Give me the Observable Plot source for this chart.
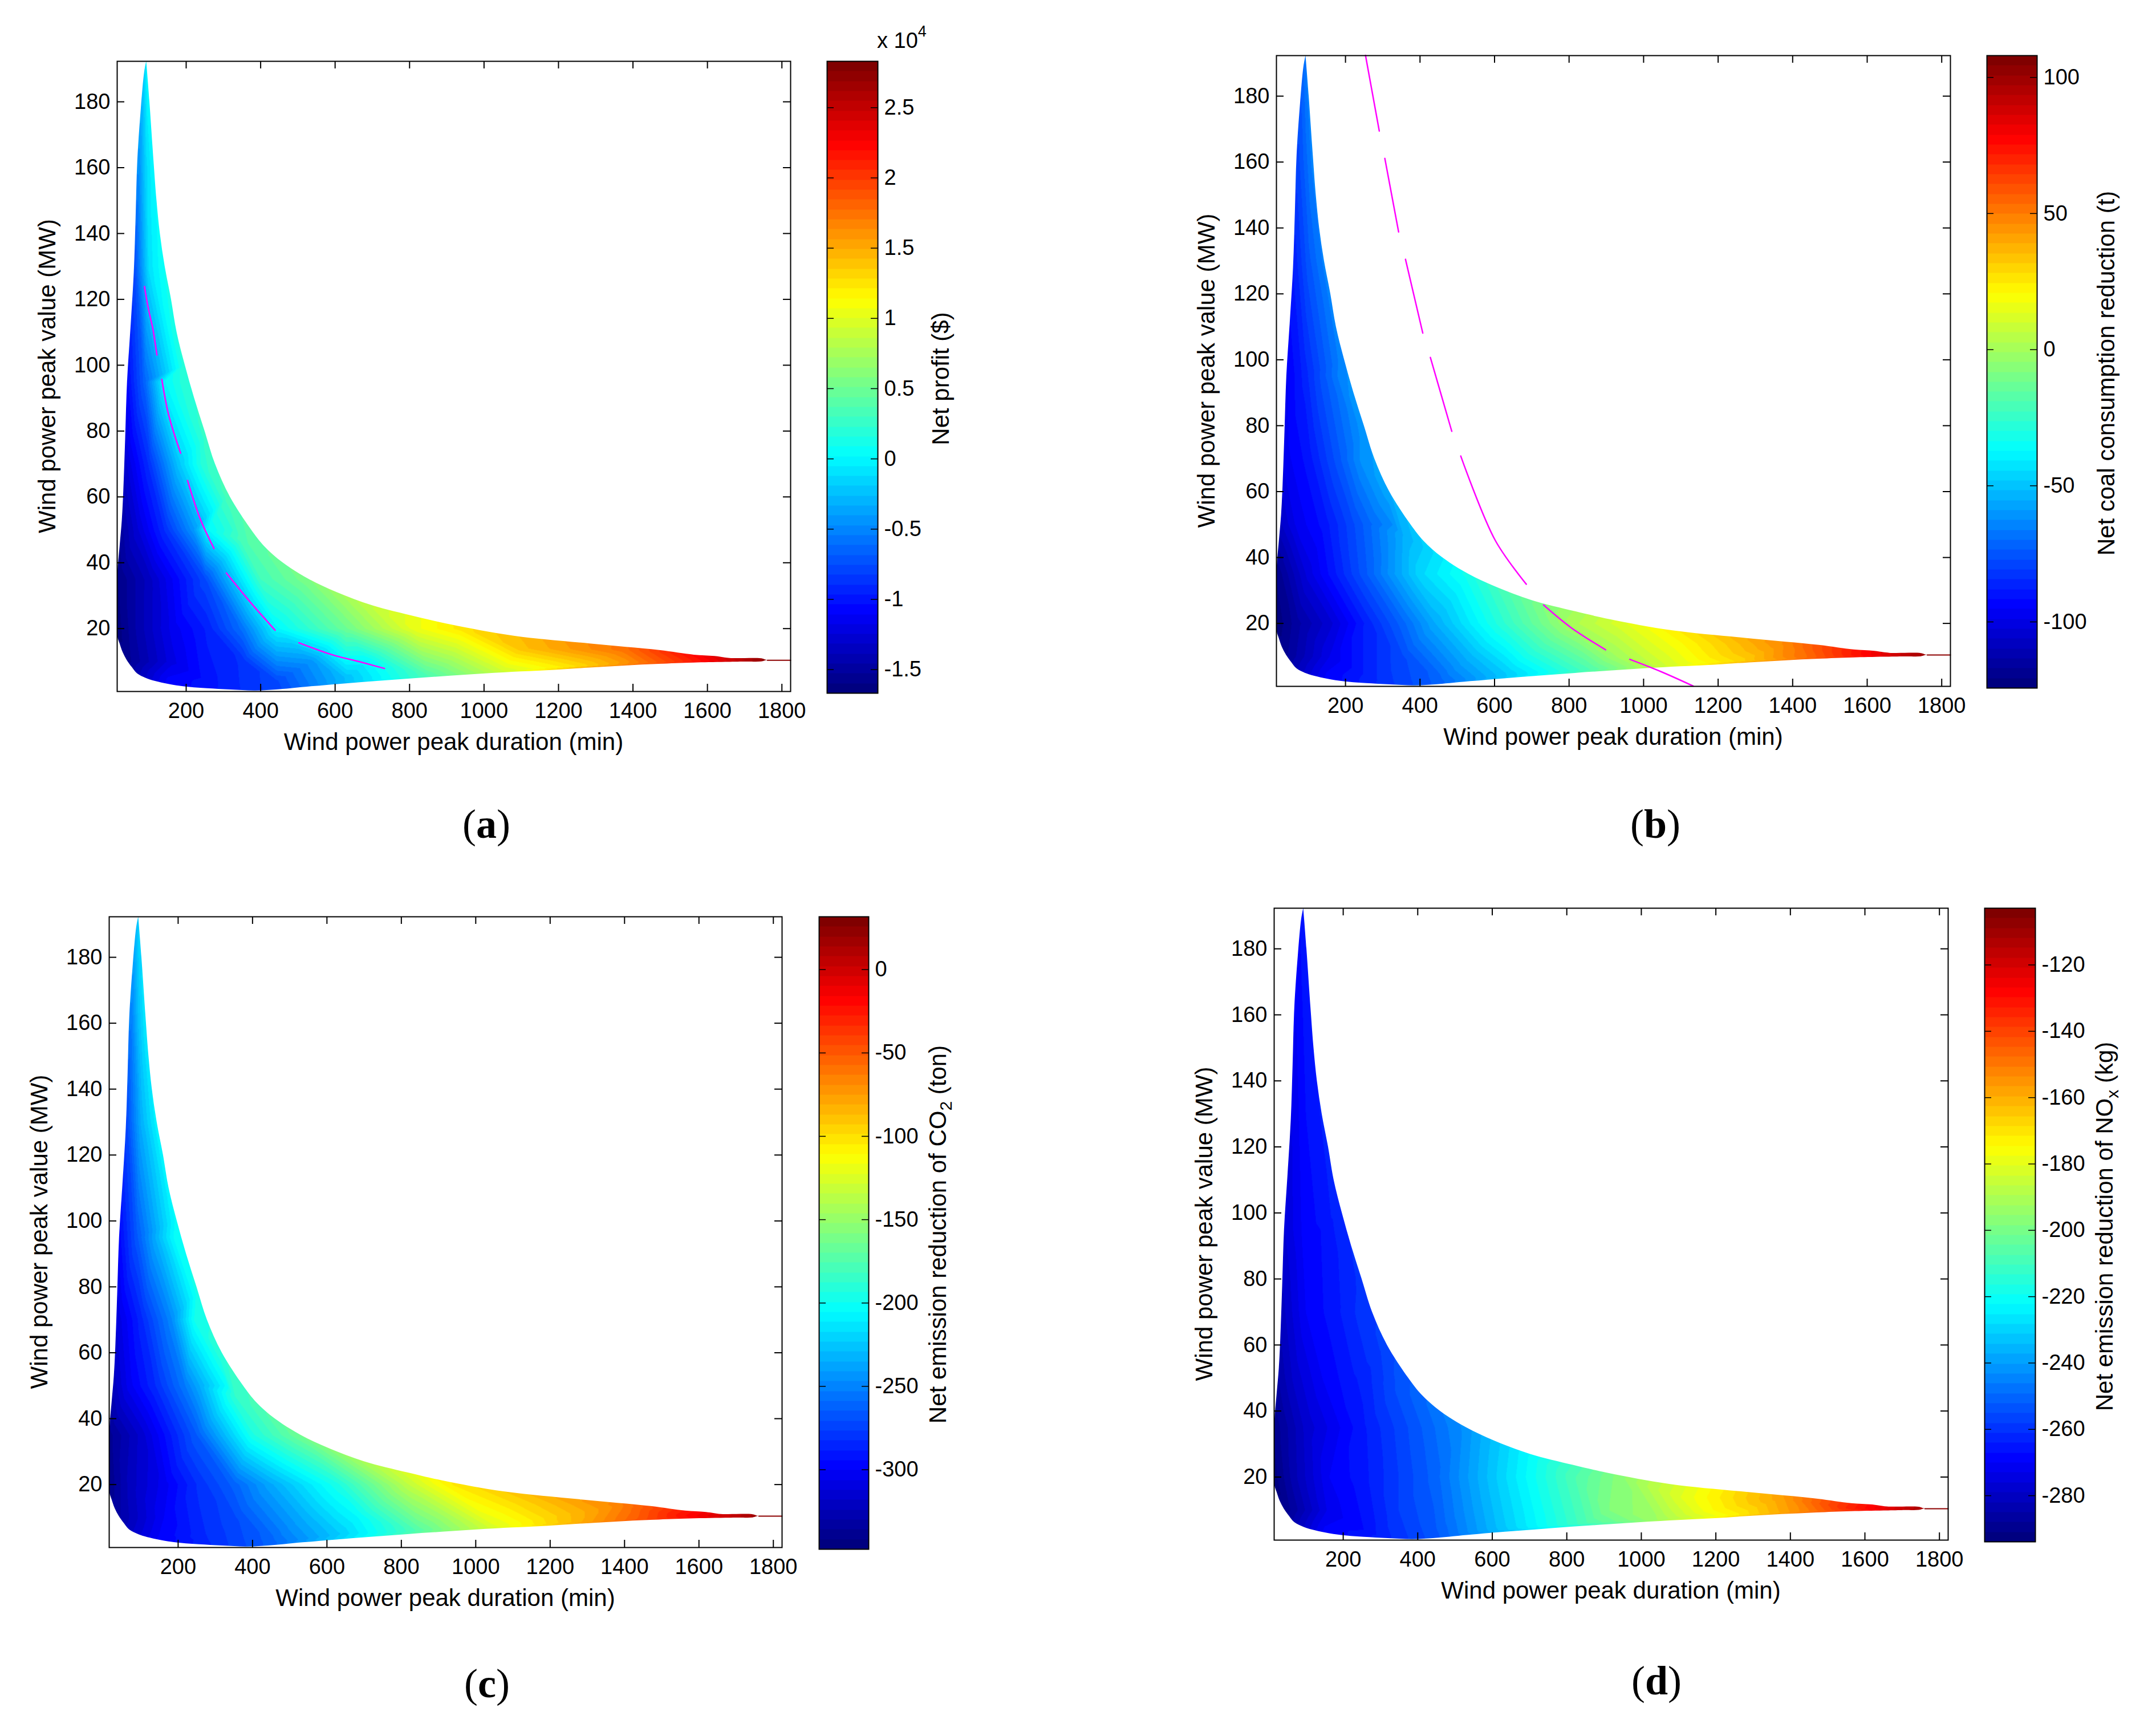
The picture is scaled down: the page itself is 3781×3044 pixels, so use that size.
<!DOCTYPE html>
<html>
<head>
<meta charset="utf-8">
<script src="https://cdn.jsdelivr.net/npm/d3@7"></script>
<script src="https://cdn.jsdelivr.net/npm/@observablehq/plot@0.6"></script>
<style>
html, body { margin: 0; padding: 0; background: #fff; }
#root { position: relative; width: 3781px; height: 3044px; overflow: hidden; background: #fff; }
#root svg { position: absolute; }
</style>
</head>
<body>
<div id="root"></div>
<script>
// ---------------- DATA ----------------
const xDomain = [14.7, 1823.4];
const yDomain = [0.9, 192.3];
const xTicks = [200, 400, 600, 800, 1000, 1200, 1400, 1600, 1800];
const yTicks = [20, 40, 60, 80, 100, 120, 140, 160, 180];

// sample points (duration min, peak MW)
const sampleX = [84,96,74,92,108,62,100,138,43,88,140,188,38,100,180,245,25,69,144,219,256,331,350,16,100,250,400,530,17,69,163,256,350,443,630,817,940,1100,1380,45,163,350,537,686,910,1191,1378,1564,1751,150,256,443,630,850,1050,1250,1450,300,450,195,250,310];
const sampleY = [185,185,160,160,160,130,130,130,95,95,95,95,70,70,70,70,50,50,50,50,50,50,47,35,35,35,35,35,20,20,20,20,20,20,20,20,20,14,13.5,10,10,10,10,10,10,10,10,10.5,10.5,5,4,4,5,6,7.2,8.5,9.7,2,2.2,100,78,60];

const netProfit = [-2300,0,-4500,-1500,-200,-7500,-1000,800,-10400,-6500,0,1800,-12600,-8800,-2200,2000,-14900,-12600,-8800,-4300,0,2500,3500,-16000,-13500,-7700,3000,5800,-16300,-14400,-11500,-9500,-5900,0,5000,10500,12500,14000,17500,-15500,-12000,-8800,-4300,0,7000,12800,16000,21500,27000,-11000,-10000,-7700,-2500,3800,9300,12800,18000,-9500,-7700,2000,2500,3300];
const coalReduction = [-72,-66,-78,-72,-66,-87,-75,-66,-95.6,-87,-75,-64,-97,-90,-75,-61,-107,-98,-90,-78,-72,-62,-56,-120,-101,-75,-45.7,-31.7,-123,-115,-103,-87,-72,-55,-26,2,12.4,20.5,47,-117,-98,-78,-52.6,-32,-2.7,26.3,47,72.8,98.3,-95,-87,-72,-48,-20,9,28.6,55,-83,-72,-63,-60,-57];
const co2Reduction = [-234,-219,-253,-230,-215,-272,-234,-210,-296,-267,-234,-205,-310,-285,-249,-198,-322,-303,-281,-253,-236,-203,-188,-338,-316,-265,-195,-163,-340,-322,-303,-281,-262.5,-238,-195,-135,-104,-100,-67,-330,-300,-272,-234,-205,-148.6,-97,-63,-21.4,16,-300,-285,-262,-224.5,-173,-124,-88,-48,-281,-262,-203,-198,-190];
const noxReduction = [-267,-265,-270,-267,-265,-273,-267,-264,-276,-270,-267,-263,-280,-270,-265,-260,-285,-278,-270,-265,-263,-256,-254,-290,-278,-265,-253,-242,-292,-283,-270,-265,-258,-251,-229,-208,-197,-181,-157,-290,-272,-258,-241.6,-225,-198.6,-174.7,-158.5,-133.7,-112.6,-270,-267,-253,-232,-208,-192,-173,-151,-263,-253,-262,-260,-257];

// boundary of the feasible region
const upperX = [93.5,102,113,121,130,143,160,175,197,222,250,278,318,375,410,460,530,605,700,817,910,1078,1284,1471,1564,1620,1660,1745,1761,1823.4];
const upperY = [192.3,180,162,150,140,130,120,110,100,90,80,70,60,50,45,40,35,31,27,23.6,21.2,17.8,15.4,13.4,12,11.6,11.0,10.9,10.4,10.4];
const bottomX = [14.7,16,22,30,41,55,69,95,125,163,210,256,320,387,460,536,630,723,817,910,1004,1100,1191,1285,1378,1470,1564,1700,1745,1761,1823.4];
const bottomY = [20,17.5,15.4,12.8,10.4,8.2,6.3,4.8,3.8,2.9,2.2,1.8,1.4,1.1,1.6,2.4,3.3,4.1,4.9,5.6,6.3,6.9,7.4,8.1,8.7,9.2,9.6,9.9,9.95,10.4,10.4];
const leftY = [20,24,30,37,45,53,62,78,95,111,128,145,162,178,189,192.3];
const leftX = [14.7,14.7,14.7,16,22,28,32,37,42,51,60,65,69.5,79,88,93.5];
const tailX = [1761, 1823.4];
const tailY = [10.4, 10.4];

// magenta zero-level dashes
const contourAX = [88,97,106.5,110,121.5, 134.6,153,185, 203.7,237,274.8, 308,368,439, 502.8,592.5,667,732.7];
const contourAY = [123.9,118,113.1,111.4,103.1, 95.7,84.9,73.3, 65,53.5,44.3, 36.9,28.6,19.5, 15.7,12.05,9.9,7.9];
const contourASeg = [1,1,1,1,1, 2,2,2, 3,3,3, 4,4,4, 5,5,5,5];
const contourBX = [253.7,290.7, 305.6,342.6, 361,407.4, 427.8,485.2, 509.3,601.9,685.2, 731.5,805.6,898, 963,1046,1133];
const contourBY = [192.4,169.4, 161.1,138.8, 130.5,108.1, 100.7,78.3, 70.8,45.2,31.9, 25.6,18.7,12.0, 9.1,5.4,1.0];
const contourBSeg = [1,1, 2,2, 3,3, 4,4, 5,5,5, 6,6,6, 7,7,7];

// colorbars
const cbDomainA = [-16680, 28300];
const cbTicksA = [-15000,-10000,-5000,0,5000,10000,15000,20000,25000];
const cbDomainB = [-124.3, 108];
const cbTicksB = [-100,-50,0,50,100];
const cbDomainC = [-347.7, 31.7];
const cbTicksC = [-300,-250,-200,-150,-100,-50,0];
const cbDomainD = [-293.9, -102.9];
const cbTicksD = [-280,-260,-240,-220,-200,-180,-160,-140,-120];

// ---------------- RENDER ----------------
const FONT = '"Liberation Sans", Arial, Helvetica, sans-serif';
function jet(s) {
  const c = v => Math.round(255 * Math.max(0, Math.min(1, v)));
  return `rgb(${c(1.5 - Math.abs(4 * s - 3))},${c(1.5 - Math.abs(4 * s - 2))},${c(1.5 - Math.abs(4 * s - 1))})`;
}
const jet64 = t => jet(Math.max(0, Math.min(63, Math.floor(t * 64))) / 63);

const zip = (xs, ys) => xs.map((x, i) => ({x, y: ys[i]}));
const upper = zip(upperX, upperY);
const bottom = zip(bottomX, bottomY);
const left = zip(leftX, leftY);
const tail = zip(tailX, tailY);
const contourA = contourAX.map((x, i) => ({x, y: contourAY[i], seg: contourASeg[i]}));
const contourB = contourBX.map((x, i) => ({x, y: contourBY[i], seg: contourBSeg[i]}));

const root = document.getElementById("root");

function mainPanel(p) {
  const mL = 170, mT = 30, mR = 30, mB = 80;
  const pw = p.R - p.L, ph = p.B - p.T;
  const pts = sampleX.map((x, i) => ({x, y: sampleY[i], v: p.values[i]}));
  const marks = [
    Plot.raster(pts, {x: "x", y: "y", fill: "v", interpolate: "barycentric"}),
    Plot.areaY(upper, {x: "x", y1: "y", y2: yDomain[1], fill: "white", curve: "catmull-rom"}),
    Plot.areaY(bottom, {x: "x", y1: yDomain[0], y2: "y", fill: "white", curve: "catmull-rom"}),
    Plot.areaX(left, {y: "y", x1: xDomain[0], x2: "x", fill: "white", curve: "catmull-rom"}),
    Plot.line(tail, {x: "x", y: "y", stroke: "#8c0000", strokeWidth: 2})
  ];
  if (p.contour) marks.push(Plot.line(p.contour, {x: "x", y: "y", z: "seg", stroke: "#ff00ff", strokeWidth: 2.5, curve: "catmull-rom"}));
  marks.push(
    Plot.tickX(xTicks, {x: d => d, stroke: "black", strokeWidth: 2, insetTop: ph - 13}),
    Plot.tickX(xTicks, {x: d => d, stroke: "black", strokeWidth: 2, insetBottom: ph - 13}),
    Plot.tickY(yTicks, {y: d => d, stroke: "black", strokeWidth: 2, insetRight: pw - 13}),
    Plot.tickY(yTicks, {y: d => d, stroke: "black", strokeWidth: 2, insetLeft: pw - 13}),
    Plot.axisX(xTicks, {anchor: "bottom", tickSize: 0, tickPadding: 20, fontSize: 38, tickFormat: d => String(d), label: null}),
    Plot.axisY(yTicks, {anchor: "left", tickSize: 0, tickPadding: 12, fontSize: 38, tickFormat: d => String(d), label: null}),
    Plot.frame({stroke: "black", strokeWidth: 2})
  );
  const svg = Plot.plot({
    width: pw + mL + mR, height: ph + mT + mB,
    marginLeft: mL, marginTop: mT, marginRight: mR, marginBottom: mB,
    x: {domain: xDomain},
    y: {domain: yDomain},
    color: {type: "linear", domain: p.cdomain, interpolate: jet64, clamp: true},
    style: {fontFamily: FONT, fontSize: "38px", background: "transparent", color: "black", overflow: "visible"},
    marks
  });
  svg.style.position = "absolute";
  svg.style.left = (p.L - mL) + "px";
  svg.style.top = (p.T - mT) + "px";
  svg.style.maxWidth = "none";
  root.appendChild(svg);
}

function colorbar(p) {
  const mL = 10, mT = 30, mR = 160, mB = 30;
  const w = p.CR - p.CL, h = p.CB - p.CT;
  const svg = Plot.plot({
    width: w + mL + mR, height: h + mT + mB,
    marginLeft: mL, marginTop: mT, marginRight: mR, marginBottom: mB,
    x: {domain: [0, 1], axis: null},
    y: {domain: p.cdomain},
    color: {type: "linear", domain: p.cdomain, interpolate: jet64, clamp: true},
    style: {fontFamily: FONT, fontSize: "38px", background: "transparent", color: "black", overflow: "visible"},
    marks: [
      Plot.raster({fill: (x, y) => y, x1: 0, x2: 1, y1: p.cdomain[0], y2: p.cdomain[1]}),
      Plot.tickY(p.ticks, {y: d => d, stroke: "black", strokeWidth: 1.5, insetRight: w - 12}),
      Plot.tickY(p.ticks, {y: d => d, stroke: "black", strokeWidth: 1.5, insetLeft: w - 12}),
      Plot.axisY(p.ticks, {anchor: "right", tickSize: 0, tickPadding: 11, fontSize: 38, tickFormat: p.fmt, label: null}),
      Plot.frame({stroke: "black", strokeWidth: 2})
    ]
  });
  svg.style.position = "absolute";
  svg.style.left = (p.CL - mL) + "px";
  svg.style.top = (p.CT - mT) + "px";
  svg.style.maxWidth = "none";
  root.appendChild(svg);
}

const panels = [
  {L: 205, T: 107, R: 1386, B: 1212, CL: 1450, CR: 1539, CT: 107, CB: 1215, values: netProfit, cdomain: cbDomainA, ticks: cbTicksA, fmt: d => String(d / 1e4), contour: contourA, letter: "a", lx: 853, ly: 1449, cbOff: 125,
   cblabel: [["Net profit ($)"]]},
  {L: 2238, T: 97, R: 3420, B: 1203, CL: 3484, CR: 3572, CT: 97, CB: 1206, values: coalReduction, cdomain: cbDomainB, ticks: cbTicksB, fmt: d => String(d), contour: contourB, letter: "b", lx: 2903, ly: 1449, cbOff: 136,
   cblabel: [["Net coal consumption reduction (t)"]]},
  {L: 191, T: 1607, R: 1371, B: 2713, CL: 1436, CR: 1523, CT: 1607, CB: 2716, values: co2Reduction, cdomain: cbDomainC, ticks: cbTicksC, fmt: d => String(d), contour: null, letter: "c", lx: 854, ly: 2956, cbOff: 136,
   cblabel: [["Net emission reduction of CO"], ["2", "sub"], [" (ton)"]]},
  {L: 2234, T: 1592, R: 3416, B: 2700, CL: 3480, CR: 3569, CT: 1592, CB: 2703, values: noxReduction, cdomain: cbDomainD, ticks: cbTicksD, fmt: d => String(d), contour: null, letter: "d", lx: 2905, ly: 2951, cbOff: 136,
   cblabel: [["Net emission reduction of NO"], ["x", "sub"], [" (kg)"]]}
];

panels.forEach(p => { mainPanel(p); colorbar(p); });

// text overlay
const ov = d3.select(root).append("svg")
  .attr("width", 3781).attr("height", 3044)
  .style("left", "0px").style("top", "0px").style("pointer-events", "none")
  .style("font-family", FONT);

panels.forEach(p => {
  const cy = (p.T + p.B) / 2;
  ov.append("text").attr("transform", `translate(${p.L - 108},${cy}) rotate(-90)`)
    .attr("text-anchor", "middle").attr("font-size", 42).attr("fill", "black")
    .text("Wind power peak value (MW)");
  ov.append("text").attr("x", (p.L + p.R) / 2).attr("y", p.B + 103)
    .attr("text-anchor", "middle").attr("font-size", 42).attr("fill", "black")
    .text("Wind power peak duration (min)");
  const ccy = (p.CT + p.CB) / 2 + 3;
  const t = ov.append("text").attr("transform", `translate(${p.CR + p.cbOff},${ccy}) rotate(-90)`)
    .attr("text-anchor", "middle").attr("font-size", 42).attr("fill", "black");
  p.cblabel.forEach(([s, kind]) => {
    if (kind === "sub") t.append("tspan").attr("font-size", 30).attr("dy", 10).text(s);
    else if (t.selectAll("tspan").size() > 0) t.append("tspan").attr("dy", -10).text(s);
    else t.append("tspan").text(s);
  });
  const lt = ov.append("text").attr("x", p.lx).attr("y", p.ly + 20)
    .attr("text-anchor", "middle").attr("font-size", 72)
    .attr("font-family", '"Liberation Serif", "Times New Roman", serif').attr("fill", "black");
  lt.append("tspan").text("(");
  lt.append("tspan").attr("font-weight", "bold").text(p.letter);
  lt.append("tspan").text(")");
});

const ex = ov.append("text").attr("x", 1538).attr("y", 84).attr("font-size", 38).attr("fill", "black");
ex.append("tspan").text("x 10");
ex.append("tspan").attr("font-size", 27).attr("dy", -20).text("4");
</script>
</body>
</html>
